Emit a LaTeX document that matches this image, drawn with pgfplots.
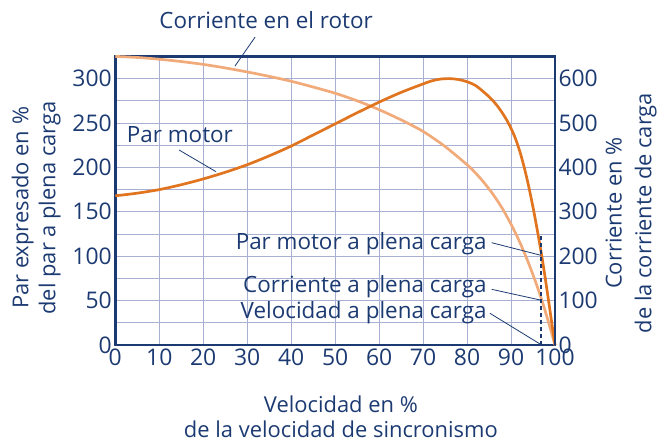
\documentclass[border=0pt]{standalone}
\usepackage{fontspec}
\setmainfont{Open Sans}
\usepackage{pgfplots}
\usepackage{pgfplotstable}
\pgfplotsset{compat=1.18}
\definecolor{navy}{HTML}{1C3A72}
\definecolor{darkor}{HTML}{E0741F}
\definecolor{lightor}{HTML}{F1AB7B}
\definecolor{gridc}{HTML}{A7B0D3}

% Par motor (% del par a plena carga)
\pgfplotstableread{
x y
0 168
5 171
10 175
15 180.5
20 187
25 194.5
30 203
35 213
40 224
45 236.5
50 249
55 261.5
60 273.5
65 284.5
70 294
72 297.5
74 299.5
76 300
78 299
80 296.5
82 292
84 284
85 279.5
86 274.5
87 268.5
88 261.5
89 253.5
90 244
91 232.5
92 218
93 200
94 179
95 155
96 128.5
97 100
98 68
99 34
100 0
}\parmotor

% Corriente en el rotor, en unidades del eje izquierdo (mitad del %)
\pgfplotstableread{
x y
0 325
5 323.8
10 321.8
15 319.2
20 316
25 312
30 307.5
35 302.5
40 297
45 290.5
50 283.5
55 275
60 265
65 253.5
70 240.5
75 223.5
80 203
82 193.3
84 182
86 169
88 154
90 136
91 126.2
92 115.6
93 104.2
94 92
95 79
96 65.2
97 50.5
98 34.5
99 17.6
100 0
}\corriente

\tikzset{note/.style={navy, font=\fontsize{22.5}{22.5}\selectfont, inner sep=0pt}}

\begin{document}
\begin{tikzpicture}
\pgfplotsset{
  common/.style={
    scale only axis,
    width=439.7bp, height=288.6bp,
    xmin=0, xmax=100,
    major tick length=0pt, minor tick length=0pt,
    axis line style={navy, line width=2.5bp},
    tick label style={font=\fontsize{23}{23}\selectfont, text=navy},
    label style={font=\fontsize{22}{27}\selectfont, text=navy, align=center},
    /pgf/number format/assume math mode=true,
  },
}
\begin{axis}[
  common,
  ymin=0, ymax=325,
  xtick={0,10,...,100},
  ytick={0,50,...,300},
  minor ytick={25,75,...,325},
  grid=both,
  major grid style={gridc, line width=0.9bp},
  minor grid style={gridc, line width=0.9bp},
  clip=false,
  xlabel={Velocidad en \%\\de la velocidad de sincronismo},
  xlabel style={at={(axis description cs:0.513,-0.249)}, anchor=center,
    font=\fontsize{22}{24.5}\selectfont},
  ylabel={Par expresado en \%\\del par a plena carga},
  ylabel style={at={(axis description cs:-0.180,0.475)}, anchor=center},
]
\addplot[lightor, line width=2.7bp, smooth] table {\corriente};
\addplot[darkor, line width=2.7bp, smooth] table {\parmotor};

\draw[navy, line width=1.6bp, dash pattern=on 4bp off 3bp] (axis cs:96.8,0) -- (axis cs:96.8,125);

\draw[navy, line width=0.8bp] (axis cs:31.8,346.8) -- (axis cs:27.2,314);
\node[note, anchor=base] at (axis cs:34.3,355.9) {Corriente en el rotor};

\draw[navy, line width=0.8bp] (axis cs:14.5,219.6) -- (axis cs:22.9,195.2);
\node[note, anchor=base] at (axis cs:14.7,227.5) {Par motor};

\draw[navy, line width=0.8bp] (axis cs:85.6,115.2) -- (axis cs:96.8,101);
\node[note, anchor=base east] at (axis cs:84.5,108.1) {Par motor a plena carga};

\draw[navy, line width=0.8bp] (axis cs:85.6,62.7) -- (axis cs:96.8,50.5);
\node[note, anchor=base east] at (axis cs:84.5,58.9) {Corriente a plena carga};

\draw[navy, line width=0.8bp] (axis cs:85.2,35.7) -- (axis cs:96.8,0.5);
\node[note, anchor=base east] at (axis cs:84.5,30.1) {Velocidad a plena carga};
\end{axis}

\begin{axis}[
  common,
  ymin=0, ymax=650,
  ytick={0,100,...,600},
  axis x line=none,
  axis y line*=right,
  ylabel={Corriente en \%\\de la corriente de carga},
  ylabel style={at={(axis description cs:1.173,0.457)}, anchor=center,
    font=\fontsize{22}{30}\selectfont},
]
\end{axis}

\pgfresetboundingbox
\useasboundingbox (-115.3bp,-96bp) rectangle (542.7bp,345bp);
\end{tikzpicture}
\end{document}
